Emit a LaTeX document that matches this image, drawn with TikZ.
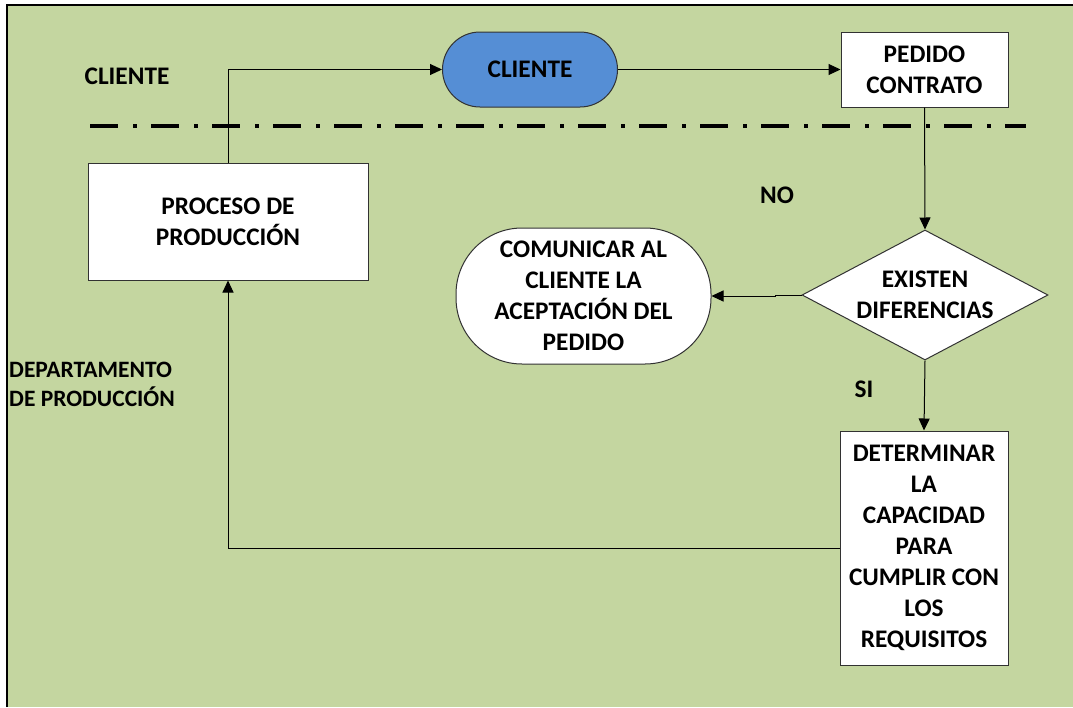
\documentclass[tikz,border=0pt]{standalone}
\usepackage{fontspec}
\setmainfont{Carlito}
\usetikzlibrary{arrows.meta,shapes.geometric}

\definecolor{lanegreen}{RGB}{196,214,160}
\definecolor{termblue}{RGB}{85,142,213}
\definecolor{edgegray}{RGB}{50,50,50}

\begin{document}
\begin{tikzpicture}[x=1pt,y=-1pt,
  lbl/.style={font=\fontsize{25.3}{31}\selectfont\bfseries, align=center, inner sep=0pt},
  sidelbl/.style={font=\fontsize{23.5}{29}\selectfont\bfseries, align=left, inner sep=0pt},
  procbox/.style={lbl, draw=edgegray, fill=white, line width=1pt, rectangle},
  flow/.style={draw=black, line width=1pt, -{Triangle[length=12pt,width=11pt]}},
  lanesep/.style={line width=4pt, dash pattern=on 28pt off 15pt on 4pt off 14pt},
]
\useasboundingbox (0,0) rectangle (1073,707);

% background of the two lanes
\fill[lanegreen] (7,5) rectangle (1073,707);
\draw[line width=1.5pt] (7,707) -- (7,5) -- (1073,5);

% lane separator
\draw[lanesep] (90,126) -- (1026,126);

% lane titles
\node[lbl] (laneA) at (127,76) {CLIENTE};
\node[sidelbl, anchor=west] (laneB) at (9,384) {DEPARTAMENTO\\DE PRODUCCIÓN};

% process steps
\node[procbox, fill=termblue, rounded corners=37.5pt,
      minimum width=175pt, minimum height=75pt] (cli) at (530,69.5) {CLIENTE};
\node[procbox, minimum width=167pt, minimum height=75pt] (ped) at (924.5,69.5) {PEDIDO\\CONTRATO};
\node[procbox, minimum width=280pt, minimum height=117pt] (proc) at (228,221.5) {PROCESO DE\\PRODUCCIÓN};
\node[draw=edgegray, fill=white, line width=1pt, diamond, inner sep=0pt,
      minimum width=246pt, minimum height=130pt] (dif) at (925,295) {};
\node[lbl] (difT) at (dif.center) {EXISTEN\\DIFERENCIAS};
\node[procbox, rounded corners=66pt, minimum width=255pt, minimum height=136pt] (com) at (583.5,296)
  {COMUNICAR AL\\CLIENTE LA\\ACEPTACIÓN DEL\\PEDIDO};
\node[procbox, minimum width=168pt, minimum height=234pt] (det) at (924,548)
  {DETERMINAR\\LA\\CAPACIDAD\\PARA\\CUMPLIR CON\\LOS\\REQUISITOS};

% branch labels
\node[lbl] (no) at (777,195) {NO};
\node[lbl] (si) at (864,389) {SI};

% connectors
\draw[flow] (proc.north) |- (cli.west);
\draw[flow] (cli.east) -- (ped.west);
\draw[flow] (ped.south) -- (dif.north);
\draw[flow] (dif.west) -- ++(-26,0) |- (com.east);
\draw[flow] (dif.south) -- (det.north);
\draw[flow] (det.west) -| (proc.south);
\end{tikzpicture}
\end{document}
